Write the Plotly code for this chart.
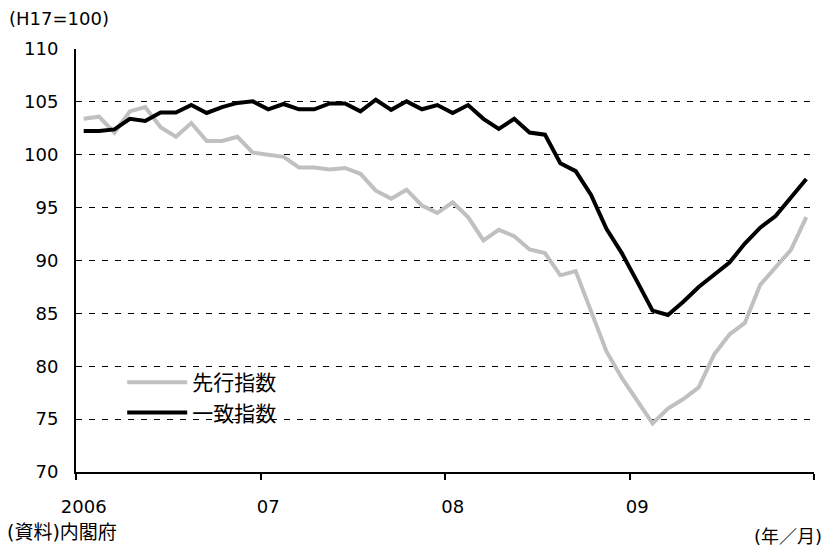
import plotly.graph_objects as go

months = [f"{y}-{m:02d}" for y in (2006, 2007, 2008, 2009) for m in range(1, 13)]

leading = [103.4, 103.6, 102.1, 104.1, 104.5, 102.6, 101.7, 103.0, 101.3, 101.3, 101.7, 100.2,
           100.0, 99.8, 98.8, 98.8, 98.6, 98.75, 98.2, 96.6, 95.85, 96.7, 95.2, 94.5,
           95.5, 94.1, 91.9, 92.9, 92.3, 91.05, 90.7, 88.6, 89.0, 85.3, 81.4, 78.9,
           76.8, 74.6, 76.0, 76.9, 78.0, 81.1, 83.0, 84.1, 87.7, 89.35, 91.0, 94.1]

coincident = [102.25, 102.25, 102.4, 103.4, 103.2, 104.0, 104.0, 104.7, 103.95, 104.5, 104.9, 105.05,
              104.3, 104.8, 104.3, 104.3, 104.85, 104.85, 104.1, 105.2, 104.25, 105.05, 104.3, 104.7,
              103.95, 104.7, 103.4, 102.45, 103.4, 102.1, 101.9, 99.2, 98.45, 96.2, 93.0, 90.7,
              88.0, 85.26, 84.85, 86.1, 87.5, 88.6, 89.8, 91.6, 93.1, 94.2, 96.0, 97.7]

year_tick_idx = [0, 12, 24, 36]
year_tick_labels = ["2006", "07", "08", "09"]
y_ticks = [70, 75, 80, 85, 90, 95, 100, 105, 110]

x = list(range(len(months)))
boundaries = [i - 0.5 for i in range(0, len(months) + 1, 12)]

FONT = "DejaVu Sans, Noto Sans CJK JP, sans-serif"

fig = go.Figure()
fig.add_trace(go.Scatter(x=x, y=leading, mode="lines", name="先行指数",
                         line=dict(color="#c0c0c0", width=4), legendgroup="a",
                         customdata=months, hovertemplate="%{customdata}: %{y}<extra>先行指数</extra>"))
fig.add_trace(go.Scatter(x=x, y=coincident, mode="lines", name="一致指数",
                         line=dict(color="#000000", width=4), legendgroup="b",
                         customdata=months, hovertemplate="%{customdata}: %{y}<extra>一致指数</extra>"))

fig.update_layout(
    width=827, height=550,
    margin=dict(l=76, r=13, t=49, b=78),
    paper_bgcolor="white", plot_bgcolor="white",
    font=dict(family=FONT, size=18, color="black"),
    showlegend=True,
    legend=dict(x=0.0626, y=0.26, xanchor="left", yanchor="top",
                bgcolor="rgba(0,0,0,0)", font=dict(size=21, family="Noto Sans CJK JP"),
                itemwidth=60, tracegroupgap=0, traceorder="grouped"),
    xaxis=dict(range=[-0.5, len(months) - 0.5], tickmode="array",
               tickvals=year_tick_idx, ticktext=year_tick_labels, ticks="",
               showgrid=False, zeroline=False, showline=True, linecolor="black", linewidth=2,
               ticklabelstandoff=17,
               minor=dict(tickmode="array", tickvals=boundaries, ticks="outside",
                          ticklen=6, tickwidth=2, tickcolor="black", showgrid=False)),
    yaxis=dict(range=[70, 110], tickmode="array", tickvals=y_ticks,
               ticks="inside", ticklen=5, tickwidth=1, tickcolor="black",
               showgrid=True, gridcolor="black", gridwidth=1, griddash="6px,7px",
               zeroline=False, showline=True, linecolor="black", linewidth=2,
               ticklabelstandoff=12),
    annotations=[
        dict(text="(H17=100)", xref="paper", yref="paper", x=-76/738, y=1 + 31/423,
             xanchor="left", yanchor="middle", showarrow=False, font=dict(size=18),
             xshift=7),
        dict(text="(資料)内閣府", xref="paper", yref="paper", x=-76/738, y=-60/423,
             xanchor="left", yanchor="middle", showarrow=False,
             font=dict(size=19), xshift=5),
        dict(text="(年／月)", xref="paper", yref="paper", x=1, y=-64/423,
             xanchor="right", yanchor="middle", showarrow=False,
             font=dict(size=18), xshift=10),
    ],
)

fig.write_html("out.html", config={"displayModeBar": False},
               post_script="document.body.style.margin='0';")
